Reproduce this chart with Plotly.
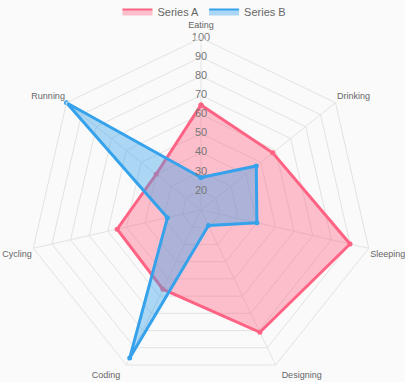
import plotly.graph_objects as go

categories = ["Eating", "Drinking", "Sleeping", "Designing", "Coding", "Cycling", "Running"]
series_a = [65, 58, 90, 81, 56, 55, 40]
series_b = [27, 47, 40, 19, 96, 28, 100]
series_names = ["Series A", "Series B"]
tick_values = [20, 30, 40, 50, 60, 70, 80, 90, 100]
tick_labels = [str(v) for v in tick_values]
r_min, r_max = 10, 100

FONT = "Liberation Sans, Arial, sans-serif"
GRID = "#e3e3e3"
COLORS = ["rgb(255,99,132)", "rgb(54,162,235)"]
FILLS = ["rgba(255,99,132,0.4)", "rgba(54,162,235,0.4)"]
LABEL_POS = ["top center", "top right", "bottom right", "bottom right",
             "bottom left", "bottom left", "top left"]
LABEL_GAP = [11, 1, 1, 8, 8, 1, 1]  # invisible marker sizes that push labels out

fig = go.Figure()
for name, vals, col, fc in zip(series_names, [series_a, series_b], COLORS, FILLS):
    fig.add_trace(go.Scatterpolar(
        r=vals + vals[:1], theta=categories + categories[:1],
        name=name, legendgroup=name, showlegend=False,
        mode="lines+markers", fill="toself",
        line=dict(color=col, width=3),
        marker=dict(size=5, color=col),
        fillcolor=fc,
    ))
# legend-only entries (single point at the centre, draws nothing)
for name, col, fc in zip(series_names, COLORS, FILLS):
    fig.add_trace(go.Scatterpolar(
        r=[r_min], theta=[categories[0]], name=name, legendgroup=name,
        mode="lines", fill="toself", line=dict(color=col, width=2), fillcolor=fc,
        hoverinfo="skip",
    ))
fig.add_trace(go.Scatterpolar(
    r=tick_values, theta=[categories[0]] * len(tick_values),
    mode="text", text=tick_labels, showlegend=False, hoverinfo="skip",
    textfont=dict(family=FONT, size=11, color="#777"),
))
fig.add_trace(go.Scatterpolar(
    r=[r_max] * len(categories), theta=categories,
    mode="markers+text", text=categories, textposition=LABEL_POS,
    marker=dict(size=LABEL_GAP, color="rgba(0,0,0,0)"),
    showlegend=False, hoverinfo="skip", cliponaxis=False,
    textfont=dict(family=FONT, size=9, color="#666"),
))

fig.update_layout(
    width=405, height=382,
    margin=dict(l=28, r=31, t=38, b=0, autoexpand=False),
    paper_bgcolor="#fafafa", plot_bgcolor="#fafafa",
    font=dict(family=FONT, size=11, color="#666"),
    legend=dict(orientation="h", x=0.51, xanchor="center", yref="paper",
                y=1.119, yanchor="top", font=dict(size=11, color="#666"),
                itemwidth=30, bgcolor="rgba(0,0,0,0)"),
    polar=dict(
        bgcolor="#fafafa",
        gridshape="linear",
        radialaxis=dict(range=[r_min, r_max], dtick=10, tick0=0, showticklabels=False,
                        showline=False, ticks="", gridcolor=GRID, angle=90),
        angularaxis=dict(rotation=90, direction="clockwise", gridcolor=GRID,
                         showline=True, linecolor=GRID, ticks="",
                         showticklabels=False),
    ),
)
fig.write_html("out.html", config={"displayModeBar": False},
               post_script="document.body.style.margin='0';")
